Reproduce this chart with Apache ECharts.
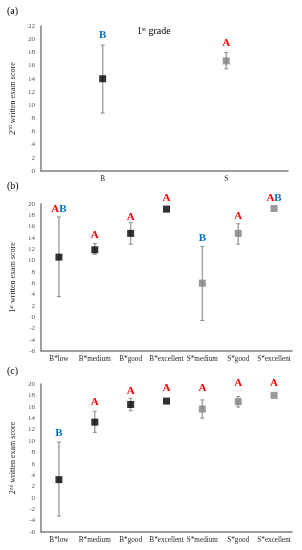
<!DOCTYPE html>
<html><head><meta charset="utf-8">
<script src="https://cdn.jsdelivr.net/npm/echarts@6/dist/echarts.min.js"></script>
<style>html,body{margin:0;padding:0;background:#fff}#c{width:302px;height:550px}</style>
</head><body><div id="c"></div>
<script>
// Panel (a)
const catsA = ['B', 'S'];
const meanA = [14.0, 16.7];
const lowA = [8.8, 15.5];
const highA = [19.1, 18.0];
const letterA = ['B', 'A'];
const letterYA = [20.6, 19.4];
// Panel (b)
const catsBC = ['B*low', 'B*medium', 'B*good', 'B*excellent', 'S*medium', 'S*good', 'S*excellent'];
const meanB = [10.6, 11.9, 14.8, 19.1, 6.0, 14.8, 19.2];
const lowB = [3.6, 11.1, 12.9, 19.1, -0.6, 12.9, 19.2];
const highB = [17.7, 13.0, 16.7, 19.1, 12.5, 16.5, 19.2];
const letterB = ['AB', 'A', 'A', 'A', 'B', 'A', 'AB'];
const letterYB = [19.1, 14.5, 17.7, 21.0, 14.0, 17.9, 21.0];
// Panel (c)
const meanC = [3.2, 13.3, 16.4, 17.0, 15.6, 16.9, 18.0];
const lowC = [-3.2, 11.5, 15.3, 17.0, 14.0, 15.95, 18.0];
const highC = [9.8, 15.2, 17.5, 17.0, 17.2, 17.8, 18.0];
const letterC = ['B', 'A', 'A', 'A', 'A', 'A', 'A'];
const letterYC = [11.4, 16.8, 18.8, 19.2, 19.2, 20.2, 20.2];
// group of each category (0 = B black, 1 = S gray)
const groupA = [0, 1];
const groupBC = [0, 0, 0, 0, 1, 1, 1];

const SERIF = 'Liberation Serif, Times New Roman, serif';
const markerColors = ['#000000', '#7f7f7f'];
const RED = '#ff0000', BLUE = '#0070c0';

const chart = echarts.init(document.getElementById('c'), null, {renderer: 'canvas'});

function yAxis(gi, min, max, name1, sup, name2) {
  return {
    gridIndex: gi, type: 'value', min: min, max: max, interval: 2,
    axisLine: {show: true, lineStyle: {color: '#7f7f7f', width: 1.5}},
    axisTick: {show: false}, splitLine: {show: false},
    axisLabel: {fontFamily: SERIF, fontSize: 7, color: '#595959', margin: 6},
    name: '{n|' + name1 + '}{s|' + sup + '}{n|' + name2 + '}',
    nameLocation: 'middle', nameRotate: 90, nameGap: 18,
    nameTextStyle: {
      rich: {
        n: {fontFamily: SERIF, fontSize: 8, color: '#262626'},
        s: {fontFamily: SERIF, fontSize: 5.5, color: '#262626', verticalAlign: 'top', padding: [0, 0, 4, 0]}
      }
    }
  };
}
function xAxis(gi, cats) {
  return {
    gridIndex: gi, type: 'category', data: cats, boundaryGap: true,
    axisLine: {show: true, lineStyle: {color: '#7f7f7f', width: 1.5}, onZero: false},
    axisTick: {show: false},
    axisLabel: {fontFamily: SERIF, fontSize: 7.2, color: '#262626', margin: 5, interval: 0}
  };
}

function errSeries(gi, low, high) {
  return {
    type: 'custom', xAxisIndex: gi, yAxisIndex: gi, z: 2,
    data: low.map((l, i) => [i, l, high[i]]),
    renderItem: function (params, api) {
      const lo = api.coord([api.value(0), api.value(1)]);
      const hi = api.coord([api.value(0), api.value(2)]);
      if (Math.abs(lo[1] - hi[1]) < 0.5) return null;
      const w = 2;
      const st = {stroke: '#a6a6a6', lineWidth: 1.5};
      const cst = {stroke: '#8c8c8c', lineWidth: 1};
      return {type: 'group', children: [
        {type: 'line', shape: {x1: lo[0], y1: lo[1], x2: hi[0], y2: hi[1]}, style: st},
        {type: 'line', shape: {x1: lo[0] - w, y1: lo[1], x2: lo[0] + w, y2: lo[1]}, style: cst},
        {type: 'line', shape: {x1: hi[0] - w, y1: hi[1], x2: hi[0] + w, y2: hi[1]}, style: cst}
      ]};
    }
  };
}
function pointSeries(gi, mean, groups) {
  return {
    type: 'scatter', xAxisIndex: gi, yAxisIndex: gi, z: 3,
    symbol: 'rect', symbolSize: 7,
    data: mean.map((m, i) => ({value: [i, m], itemStyle: {color: markerColors[groups[i]]}})),
    silent: true
  };
}
function letterSeries(gi, letters, ys) {
  return {
    type: 'custom', xAxisIndex: gi, yAxisIndex: gi, z: 4,
    data: ys.map((y, i) => [i, y]),
    renderItem: function (params, api) {
      const p = api.coord([api.value(0), api.value(1)]);
      const txt = letters[params.dataIndex];
      const rich = txt.split('').map(ch => '{' + (ch === 'A' ? 'a' : 'b') + '|' + ch + '}').join('');
      return {type: 'text', x: p[0], y: p[1], style: {
        text: rich, align: 'center', verticalAlign: 'middle',
        rich: {
          a: {fontFamily: SERIF, fontSize: 11, fontWeight: 'bold', fill: RED},
          b: {fontFamily: SERIF, fontSize: 11, fontWeight: 'bold', fill: BLUE}
        }
      }};
    }
  };
}

const option = {
  animation: false,
  backgroundColor: '#ffffff',
  grid: [
    {left: 40, top: 26, width: 248, height: 145},
    {left: 41, top: 204, width: 251, height: 147},
    {left: 41, top: 384, width: 251, height: 148}
  ],
  xAxis: [xAxis(0, catsA), xAxis(1, catsBC), xAxis(2, catsBC)],
  yAxis: [
    yAxis(0, 0, 22, '2', 'nd', ' written exam score'),
    yAxis(1, -6, 20, '1', 'st', ' written exam score'),
    yAxis(2, -6, 20, '2', 'nd', ' written exam score')
  ],
  graphic: [
    {type: 'text', left: 7, top: 6, style: {text: '(a)', font: '10px ' + SERIF, fill: '#000'}},
    {type: 'text', left: 7, top: 181, style: {text: '(b)', font: '10px ' + SERIF, fill: '#000'}},
    {type: 'text', left: 7, top: 366, style: {text: '(c)', font: '10px ' + SERIF, fill: '#000'}},
    {type: 'text', left: 137, top: 26, style: {
      text: '{n|1}{s|st}{n| grade}',
      rich: {
        n: {fontFamily: SERIF, fontSize: 10, fill: '#000'},
        s: {fontFamily: SERIF, fontSize: 6, fill: '#000', verticalAlign: 'top', padding: [0, 0, 5, 0]}
      }
    }}
  ],
  series: [
    errSeries(0, lowA, highA), pointSeries(0, meanA, groupA), letterSeries(0, letterA, letterYA),
    errSeries(1, lowB, highB), pointSeries(1, meanB, groupBC), letterSeries(1, letterB, letterYB),
    errSeries(2, lowC, highC), pointSeries(2, meanC, groupBC), letterSeries(2, letterC, letterYC)
  ]
};
chart.setOption(option);
</script></body></html>
